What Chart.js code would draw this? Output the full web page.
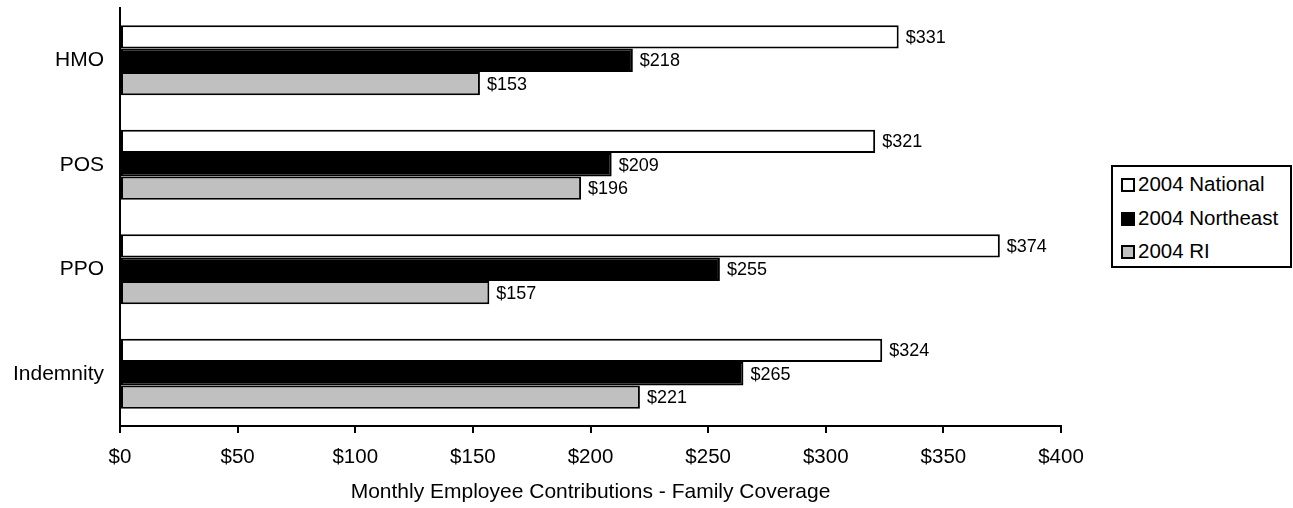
<!DOCTYPE html>
<html>
<head>
<meta charset="utf-8">
<script src="https://cdn.jsdelivr.net/npm/chart.js@4"></script>
<style>
  body { margin: 0; background: #fff; }
  #wrap { position: relative; width: 1293px; height: 508px; }
  #legend {
    position: absolute; left: 1111px; top: 165px; width: 177px; height: 99px;
    border: 2px solid #000; background: #fff;
    font-family: "Liberation Sans", Arial, sans-serif; font-size: 20.5px; color: #000;
  }
  #legend div { position: absolute; left: 8px; height: 24px; line-height: 24px; white-space: nowrap; }
  #legend span.box {
    display: inline-block; width: 10px; height: 10px; border: 2px solid #000;
    margin-right: 3px; vertical-align: -1px;
  }
</style>
</head>
<body>
<div id="wrap">
  <canvas id="chart" width="1293" height="508"></canvas>
  <div id="legend"></div>
</div>
<script>
const categories = ["HMO", "POS", "PPO", "Indemnity"];
const national = [331, 321, 374, 324];
const northeast = [218, 209, 255, 265];
const ri = [153, 196, 157, 221];
const seriesNames = ["2004 National", "2004 Northeast", "2004 RI"];
const seriesColors = ["#ffffff", "#000000", "#c0c0c0"];
const tickValues = [0, 50, 100, 150, 200, 250, 300, 350, 400];

const font = "Liberation Sans, Arial, sans-serif";
Chart.defaults.color = "#000";
Chart.defaults.font.family = font;

// value labels to the right of each bar
const barLabels = {
  id: "barLabels",
  afterDatasetsDraw(chart) {
    const ctx = chart.ctx;
    ctx.save();
    ctx.font = "18px " + font;
    ctx.fillStyle = "#000";
    ctx.textAlign = "left";
    ctx.textBaseline = "middle";
    chart.data.datasets.forEach((ds, i) => {
      chart.getDatasetMeta(i).data.forEach((bar, j) => {
        ctx.fillText("$" + ds.data[j], bar.x + 7, bar.y + 1);
      });
    });
    ctx.restore();
  }
};

const allSeries = [national, northeast, ri];

new Chart(document.getElementById("chart"), {
  type: "bar",
  data: {
    labels: categories,
    datasets: allSeries.map((d, i) => ({
      label: seriesNames[i],
      data: d,
      backgroundColor: seriesColors[i],
      borderColor: "#000",
      borderWidth: 2,
      borderSkipped: false,
      categoryPercentage: 0.67,
      barPercentage: 1.0
    }))
  },
  options: {
    indexAxis: "y",
    responsive: false,
    animation: false,
    layout: { padding: { top: 8, right: 232, left: 0, bottom: 0 } },
    plugins: {
      legend: { display: false },
      tooltip: { enabled: false }
    },
    scales: {
      x: {
        min: 0,
        max: 400,
        afterBuildTicks: axis => { axis.ticks = tickValues.map(v => ({ value: v })); },
        afterFit: axis => { axis.height = 82; axis.paddingLeft = 0; axis.paddingRight = 0; },
        grid: { drawOnChartArea: false, drawTicks: true, tickLength: 7, color: "#000", lineWidth: 2 },
        border: { display: true, color: "#000", width: 2 },
        ticks: {
          padding: 12,
          font: { size: 20.5 },
          callback: v => "$" + v
        },
        title: {
          display: true,
          text: "Monthly Employee Contributions - Family Coverage",
          font: { size: 21 },
          padding: { top: 0, bottom: 3 }
        }
      },
      y: {
        afterFit: axis => { axis.width = 120; axis.paddingTop = 0; axis.paddingBottom = 0; },
        grid: { display: false, drawTicks: false },
        border: { display: true, color: "#000", width: 2 },
        ticks: { padding: 16, font: { size: 21 } }
      }
    }
  },
  plugins: [barLabels]
});

// legend box
const legend = document.getElementById("legend");
seriesNames.forEach((name, i) => {
  const row = document.createElement("div");
  row.style.top = (5 + i * 33.5) + "px";
  row.innerHTML = `<span class="box" style="background:${seriesColors[i]}"></span>${name}`;
  legend.appendChild(row);
});
</script>
</body>
</html>
